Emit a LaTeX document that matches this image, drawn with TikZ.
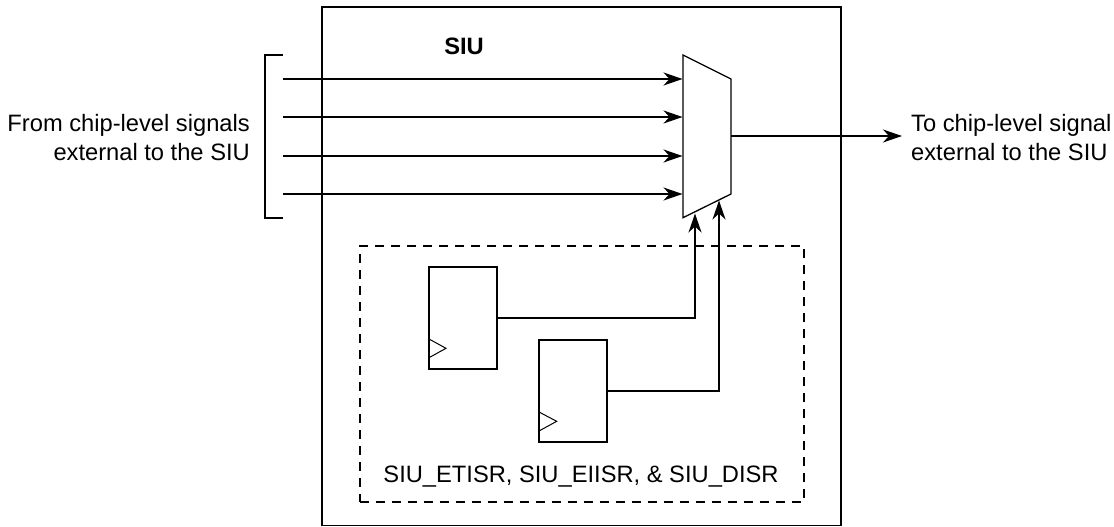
\documentclass[tikz,border=0pt]{standalone}
\usepackage{fontspec}
\setmainfont{Liberation Sans}
\usetikzlibrary{arrows.meta}
\tikzset{
  wire/.style={line width=1.8pt,line join=miter},
  sig/.style={wire,-{Stealth[length=19pt,width=13pt,inset=6pt]},shorten >=0.5pt},
  lbl/.style={font=\fontsize{23.7}{28.5}\selectfont,inner sep=0pt},
  regbox/.style={draw,line width=1.8pt,outer sep=0pt,minimum width=68pt,minimum height=102pt,inner sep=0pt,anchor=north west},
  outerbox/.style={draw,line width=1.8pt,outer sep=0pt,minimum width=519pt,minimum height=518.5pt,inner sep=0pt,anchor=north west},
  dashbox/.style={draw,line width=1.8pt,outer sep=0pt,dash pattern=on 9pt off 7pt,minimum width=444pt,minimum height=256pt,inner sep=0pt,anchor=north west},
  clk/.style={line width=1pt,line join=miter}
}
\begin{document}
\begin{tikzpicture}[x=1pt,y=-1pt]
\useasboundingbox (0,0) rectangle (1114,527);
\node[outerbox] (outer) at (322,7) {};
\node[dashbox] (dash) at (360,246) {};
\node[regbox] (r1) at (429,267) {};
\node[regbox] (r2) at (539,340) {};
\draw[clk] (429,357.7) -- (446,348.3) -- (429,339);
\draw[clk] (539,431) -- (556.7,421.3) -- (539,412);
% mux
\draw[line width=1.3pt,line join=miter] (683,55) coordinate (mtl) -- (731,79) coordinate (mtr) -- (731,194) coordinate (mbr) -- (683,217.7) coordinate (mbl) -- cycle;
% bracket
\draw[wire] (283,55) coordinate (bt) -- (265,55) -- (265,217.7) -- (283,217.7) coordinate (bb);
% inputs
\foreach \n/\y in {a/79,b/117,c/156,d/194}{
  \coordinate (s\n) at (283,\y);
  \coordinate (e\n) at (683,\y);
  \draw[sig] (s\n) -- (e\n);
}
% output
\coordinate (oe) at (731,136);
\coordinate (ot) at (902.5,136);
\draw[sig] (oe) -- (ot);
% registers to mux
\coordinate (t1) at (695,213);
\coordinate (t2) at (719,200);
\draw[sig] (r1.east |- 0,318) -- (695,318) -- (t1);
\draw[sig] (r2.east |- 0,391) -- (719,391) -- (t2);
\node[lbl,font=\fontsize{23.7}{28.5}\selectfont\bfseries,anchor=center] (siu) at (464,46) {SIU};
\node[lbl,align=right,anchor=east] (from) at (250,137.5) {From chip-level signals\\external to the SIU};
\node[lbl,align=left,anchor=west] (to) at (911,137.5) {To chip-level signal\\external to the SIU};
\node[lbl,anchor=center] (regs) at (581,477) {SIU\_ETISR, SIU\_EIISR, \& SIU\_DISR};
\end{tikzpicture}
\end{document}
